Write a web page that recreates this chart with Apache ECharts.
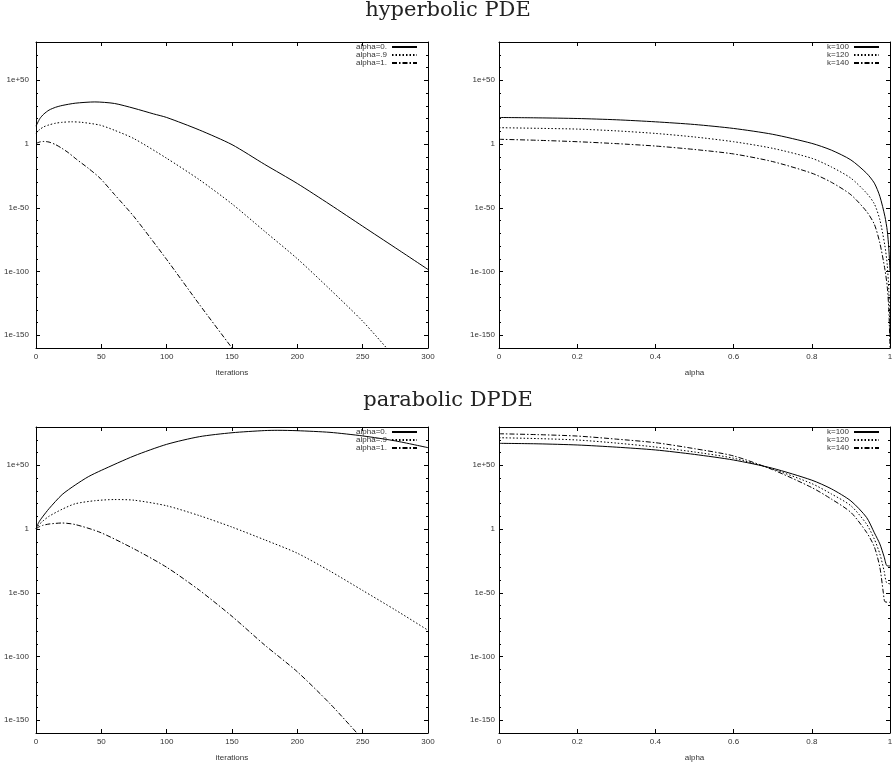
<!DOCTYPE html>
<html>
<head>
<meta charset="utf-8">
<script src="https://cdn.jsdelivr.net/npm/echarts@6/dist/echarts.min.js"></script>
<style>
  html, body { margin: 0; padding: 0; background: #fff; }
  #main { width: 896px; height: 766px; }
</style>
</head>
<body>
<div id="main"></div>
<script>
// y values are stored as log10 of the plotted quantity
const yTickValues = [-150, -100, -50, 0, 50];
const yTickLabels = ['1e-150', '1e-100', '1e-50', '1', '1e+50'];

// hyperbolic PDE, x = iterations
const hypIterX0 = [0, 3, 6, 10, 15, 20, 30, 45, 60, 75, 90, 100, 125, 150, 175, 200, 225, 250, 275, 300];
const hypIterY0 = [14, 20, 23.5, 26.6, 28.8, 30.2, 32, 33, 31.8, 28, 23.6, 20.8, 11, -0.5, -16, -31, -47.5, -64.5, -81.4, -98.4];
const hypIterX9 = [0, 3, 6, 10, 15, 20, 27, 35, 49, 60, 75, 100, 125, 150, 175, 200, 225, 250, 270];
const hypIterY9 = [8.5, 11.5, 13.5, 15, 16.3, 17, 17.4, 17, 14.8, 10.8, 4.2, -11.2, -28, -47, -68.5, -90, -114, -139, -162];
const hypIterX1 = [0, 3, 6, 10, 15, 20, 25, 31, 40, 49, 60, 75, 100, 125, 150, 155];
const hypIterY1 = [0.5, 1.6, 2, 1.5, -0.5, -3.5, -7, -12, -19, -26.8, -39.5, -57, -90.6, -125.8, -160, -167];

// hyperbolic PDE, x = alpha
const hypAlphaX = [0, 0.1, 0.2, 0.3, 0.4, 0.5, 0.6, 0.7, 0.8, 0.85, 0.9, 0.94, 0.96, 0.974, 0.987, 0.993, 0.997, 1];
const hypK100 = [20.8, 20.5, 20, 19, 17.4, 15.3, 12.2, 7.6, 0.5, -4.8, -12.5, -22.9, -30.7, -41, -56.8, -68, -82, -100];
const hypK120 = [12.8, 12.3, 11.7, 10.3, 8.3, 5.5, 1.8, -3.4, -11.2, -18, -26.8, -38.5, -47, -59.4, -80, -95, -115, -150];
const hypK140 = [3.7, 2.9, 1.8, 0.3, -1.6, -4.3, -7.8, -13.8, -22.9, -30, -39.8, -52.9, -63, -77.6, -98.4, -112, -130, -160];

// parabolic DPDE, x = iterations
const parIterX0 = [0, 2, 5, 10, 20, 30, 40, 50, 75, 100, 125, 150, 175, 185, 200, 225, 250, 275, 300];
const parIterY0 = [0, 5, 9.5, 16, 27, 34.5, 41, 46, 57.3, 66.4, 72.4, 75.5, 77.2, 77.4, 77.1, 75.8, 73, 69.1, 63.8];
const parIterX9 = [0, 2, 5, 10, 20, 30, 45, 60, 75, 100, 125, 150, 175, 200, 225, 250, 275, 300];
const parIterY9 = [0, 3, 6, 10, 15.5, 19.8, 22.2, 23.1, 22.6, 18.2, 10.5, 1.5, -8.5, -19, -33, -48.2, -63.5, -79.4];
const parIterX1 = [0, 2, 5, 10, 20, 30, 49, 75, 100, 125, 150, 175, 200, 225, 250];
const parIterY1 = [0, 1.5, 2.8, 3.9, 4.7, 3.5, -2.6, -15.6, -30, -48, -68.5, -91, -112, -137, -165];

// parabolic DPDE, x = alpha
const parAlphaX100 = [0, 0.1, 0.2, 0.3, 0.4, 0.5, 0.6, 0.7, 0.8, 0.85, 0.9, 0.94, 0.96, 0.974, 0.985, 0.992, 1];
const parK100 = [67.2, 66.8, 65.9, 64.2, 62, 58.5, 54.1, 47.6, 38.3, 31.5, 22, 9.1, -3, -11.7, -21.8, -28.8, -29];
const parAlphaX120 = [0, 0.1, 0.2, 0.3, 0.4, 0.5, 0.6, 0.7, 0.8, 0.85, 0.9, 0.94, 0.96, 0.974, 0.985, 0.991, 1];
const parK120 = [71.6, 70.9, 69.8, 67.4, 64.3, 60.4, 55.5, 47, 35.6, 27.5, 18.2, 3.9, -8, -19.5, -33, -42, -43];
const parAlphaX140 = [0, 0.1, 0.2, 0.3, 0.4, 0.5, 0.6, 0.7, 0.8, 0.85, 0.9, 0.94, 0.96, 0.974, 0.983, 0.987, 1];
const parK140 = [74.7, 74, 72.9, 70.5, 67.7, 63, 57.3, 46.5, 32.5, 23.5, 13, -2.6, -14, -30, -50, -57, -57.5];

const alphaNames = ['alpha=0.', 'alpha=.9', 'alpha=1.'];
const kNames = ['k=100', 'k=120', 'k=140'];

const chart = echarts.init(document.getElementById('main'));

const font = 'Liberation Sans';
const txt = '#333';
const dashes = ['solid', [1.5, 2], [5, 2, 1.5, 2]];

const grids = [
  { left: 36, top: 42, width: 392, height: 306 },
  { left: 499, top: 42, width: 391, height: 306 },
  { left: 36, top: 427, width: 392, height: 306 },
  { left: 499, top: 427, width: 391, height: 306 }
];
const xConf = [
  { min: 0, max: 300, interval: 50, name: 'iterations' },
  { min: 0, max: 1, interval: 0.2, name: 'alpha' },
  { min: 0, max: 300, interval: 50, name: 'iterations' },
  { min: 0, max: 1, interval: 0.2, name: 'alpha' }
];

const xAxes = [];
const yAxes = [];
grids.forEach((g, i) => {
  const c = xConf[i];
  xAxes.push({
    gridIndex: i, type: 'value', min: c.min, max: c.max, interval: c.interval,
    name: c.name, nameLocation: 'middle', nameGap: 21,
    nameTextStyle: { fontSize: 8, color: txt, fontFamily: font },
    axisLine: { show: true, onZero: false, lineStyle: { color: '#000', width: 1 } },
    axisTick: { show: true, inside: true, length: 4, lineStyle: { color: '#000' } },
    axisLabel: { fontSize: 8, color: txt, fontFamily: font, margin: 5 },
    splitLine: { show: false }
  });
  xAxes.push({
    gridIndex: i, type: 'value', position: 'top', min: c.min, max: c.max, interval: c.interval,
    axisLine: { show: true, onZero: false, lineStyle: { color: '#000', width: 1 } },
    axisTick: { show: true, inside: true, length: 4, lineStyle: { color: '#000' } },
    axisLabel: { show: false },
    splitLine: { show: false }
  });
  ['left', 'right'].forEach(pos => {
    // major ticks (and labels on the left)
    yAxes.push({
      gridIndex: i, type: 'value', position: pos, min: -160, max: 80, interval: 10,
      axisLine: { show: true, onZero: false, lineStyle: { color: '#000', width: 1 } },
      axisTick: { show: true, inside: true, length: 4, customValues: yTickValues, lineStyle: { color: '#000' } },
      axisLabel: {
        show: pos === 'left', customValues: yTickValues, fontSize: 8, color: txt, fontFamily: font,
        margin: i % 2 === 0 ? 7 : 4,
        formatter: v => yTickLabels[yTickValues.indexOf(v)]
      },
      splitLine: { show: false }
    });
    // minor ticks every 10 decades
    yAxes.push({
      gridIndex: i, type: 'value', position: pos, min: -160, max: 80, interval: 10,
      axisLine: { show: false, onZero: false },
      axisTick: { show: true, inside: true, length: 2, lineStyle: { color: '#000' } },
      axisLabel: { show: false },
      splitLine: { show: false }
    });
  });
});

function zip(xs, ys) {
  return xs.map((x, j) => [x, ys[j]]);
}
function line(name, gi, xs, ys, d) {
  return {
    name: name, type: 'line', xAxisIndex: gi * 2, yAxisIndex: gi * 4,
    data: zip(xs, ys), symbol: 'none', smooth: 0.25,
    color: '#000', lineStyle: { color: '#000', width: 1, type: dashes[d] },
    clip: true
  };
}

const series = [
  line(alphaNames[0], 0, hypIterX0, hypIterY0, 0),
  line(alphaNames[1], 0, hypIterX9, hypIterY9, 1),
  line(alphaNames[2], 0, hypIterX1, hypIterY1, 2),
  line(kNames[0], 1, hypAlphaX, hypK100, 0),
  line(kNames[1], 1, hypAlphaX, hypK120, 1),
  line(kNames[2], 1, hypAlphaX, hypK140, 2),
  line(alphaNames[0], 2, parIterX0, parIterY0, 0),
  line(alphaNames[1], 2, parIterX9, parIterY9, 1),
  line(alphaNames[2], 2, parIterX1, parIterY1, 2),
  line(kNames[0], 3, parAlphaX100, parK100, 0),
  line(kNames[1], 3, parAlphaX120, parK120, 1),
  line(kNames[2], 3, parAlphaX140, parK140, 2)
];

function legend(names, right, top) {
  return {
    data: names, orient: 'vertical', align: 'right', right: right, top: top,
    itemWidth: 25, itemHeight: 7, itemGap: 0, padding: 0, selectedMode: false,
    itemStyle: { opacity: 0 },
    textStyle: { fontSize: 8, color: txt, fontFamily: font, lineHeight: 7 }
  };
}

chart.setOption({
  animation: false,
  backgroundColor: '#fff',
  title: [
    { text: 'hyperbolic PDE', left: 'center', top: 0, padding: 0,
      textStyle: { fontFamily: 'DejaVu Serif', fontSize: 21, fontWeight: 'normal', color: '#222' } },
    { text: 'parabolic DPDE', left: 'center', top: 390, padding: 0,
      textStyle: { fontFamily: 'DejaVu Serif', fontSize: 21, fontWeight: 'normal', color: '#222' } }
  ],
  legend: [
    legend(alphaNames, 478, 43),
    legend(kNames, 16, 43),
    legend(alphaNames, 478, 428),
    legend(kNames, 16, 428)
  ],
  grid: grids,
  xAxis: xAxes,
  yAxis: yAxes,
  series: series
});
</script>
</body>
</html>
